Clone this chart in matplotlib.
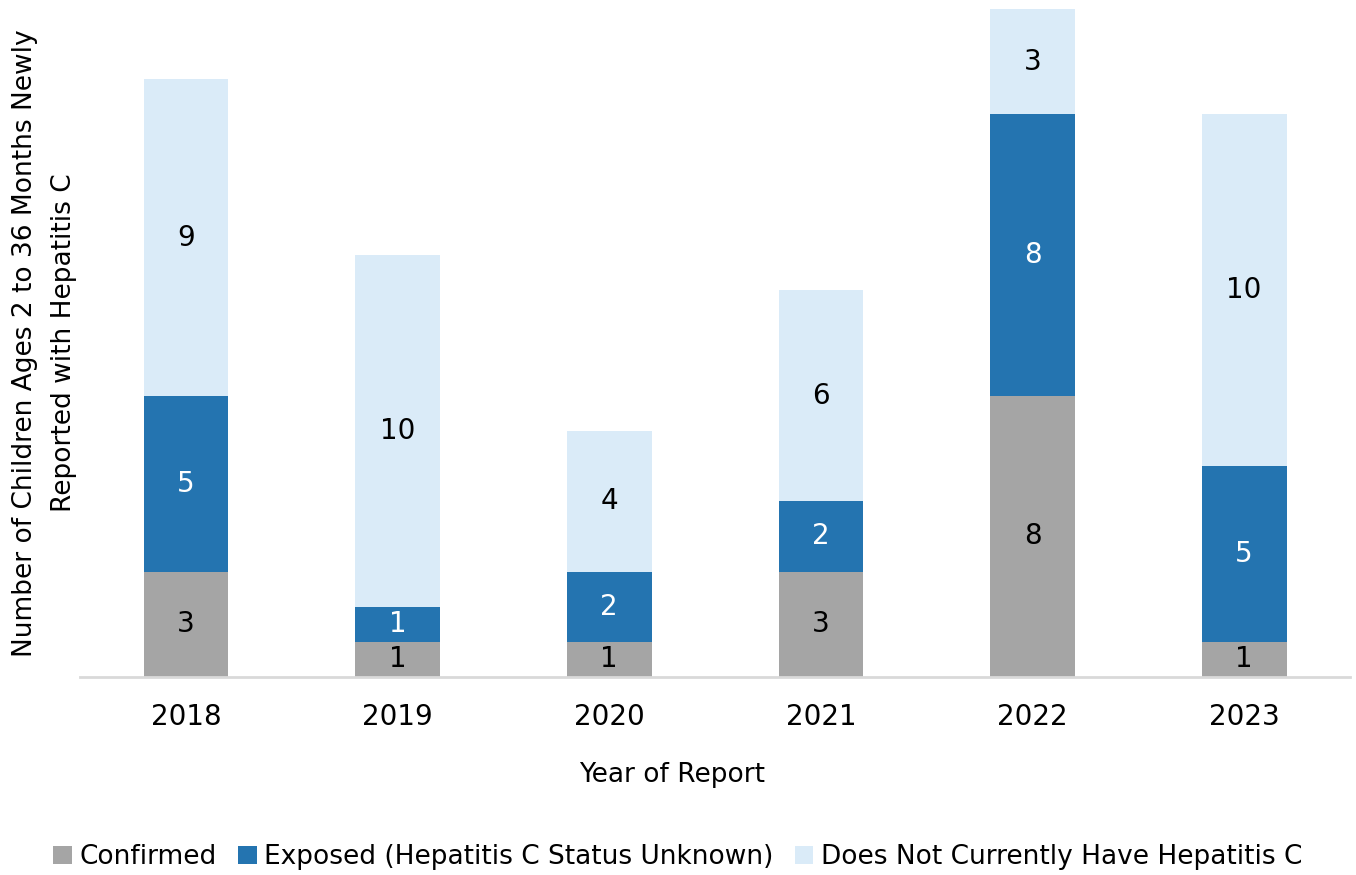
import matplotlib.pyplot as plt
import numpy as np

plt.rcParams['font.family'] = ['DejaVu Sans']

years = ['2018', '2019', '2020', '2021', '2022', '2023']
confirmed = [3, 1, 1, 3, 8, 1]
exposed = [5, 1, 2, 2, 8, 5]
not_hcv = [9, 10, 4, 6, 3, 10]

series = [
    ('Confirmed', confirmed, '#A5A5A5', 'black'),
    ('Exposed (Hepatitis C Status Unknown)', exposed, '#2474B0', 'white'),
    ('Does Not Currently Have Hepatitis C', not_hcv, '#DAEBF8', 'black'),
]

fig = plt.figure(figsize=(13.56, 8.75), dpi=100)
ax = fig.add_axes([80/1356, 1 - 677/875, 1270/1356, 668/875])

x = np.arange(len(years))
bottom = np.zeros(len(years))
for name, vals, color, tcol in series:
    bars = ax.bar(x, vals, 0.4, bottom=bottom, color=color, label=name)
    ax.bar_label(bars, labels=[str(v) for v in vals], label_type='center',
                 color=tcol, fontsize=20)
    bottom += vals

ax.set_xlim(-0.5, 5.5)
ax.set_ylim(0, 19)
ax.set_xticks(x)
ax.set_xticklabels(years, fontsize=20)
ax.tick_params(axis='x', length=0, pad=19)
ax.set_yticks([])
for s in ['top', 'right', 'left']:
    ax.spines[s].set_visible(False)
ax.spines['bottom'].set_color('#D9D9D9')
ax.spines['bottom'].set_linewidth(2)

ax.set_xlabel('Year of Report', fontsize=19, labelpad=22)
ax.xaxis.label.set_x(0.466)
ax.set_ylabel('Number of Children Ages 2 to 36 Months Newly\nReported with Hepatitis C',
              fontsize=19, labelpad=2, linespacing=1.65)

fig.legend(loc='center', bbox_to_anchor=(0.5, 1 - 857/875), ncol=3, frameon=False,
           fontsize=19, handlelength=0.7, handleheight=0.7, handletextpad=0.3,
           columnspacing=0.8)

fig.savefig('out.png', dpi=100)
